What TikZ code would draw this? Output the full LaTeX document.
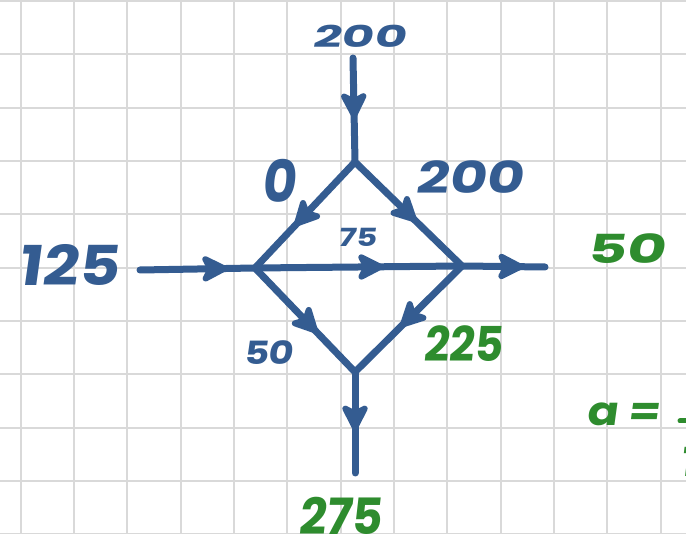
\documentclass[tikz,border=0pt]{standalone}
\usepackage{fontspec}
\setmainfont[FakeSlant=0.12]{Poppins}
\usetikzlibrary{arrows.meta,decorations.markings}
\definecolor{inkblue}{RGB}{52,92,145}
\definecolor{inkgreen}{RGB}{46,140,46}
\definecolor{gridgray}{RGB}{217,217,217}
\tikzset{
  gridline/.style={draw=gridgray, line width=2pt},
  flow/.style={draw=inkblue, line width=7pt, line cap=round, line join=round},
  midarr/.style={postaction={decorate,decoration={markings,
     mark=at position #1 with {\arrow[inkblue]{Stealth[length=32pt,width=32pt,inset=8pt,round]}}}}},
  bluelbl/.style={text=inkblue, inner sep=0pt, font=\bfseries},
  greenlbl/.style={text=inkgreen, inner sep=0pt, font=\bfseries},
}
\newcommand{\hw}[3]{\fontsize{#1}{#1}\selectfont\scalebox{#2}[1]{#3}}
\begin{document}
\begin{tikzpicture}[x=1pt,y=-1pt]
\useasboundingbox (0,0) rectangle (686,534);
\clip (0,0) rectangle (686,534);
\fill[white] (0,0) rectangle (686,534);
\foreach \i in {0,...,12} \draw[gridline] (20.7+53.33*\i,0) -- ++(0,534);
\foreach \j in {0,...,10} \draw[gridline] (0,1+53.33*\j) -- ++(686,0);

% junctions
\coordinate (T) at (355,162);
\coordinate (L) at (255,268);
\coordinate (R) at (462,266);
\coordinate (B) at (355,372);
\coordinate (topin) at (353,58);
\coordinate (leftin) at (140,270);
\coordinate (rightout) at (545,267);
\coordinate (botout) at (355,473);

\draw[flow, midarr=0.58] (topin) -- (T);
\draw[flow, midarr=0.76] (leftin) -- (L);
\draw[flow, midarr=0.62] (L) -- (R);
\draw[flow, midarr=0.74] (R) -- (rightout);
\draw[flow, midarr=0.6] (T) -- (L);
\draw[flow, midarr=0.57] (T) -- (R);
\draw[flow, midarr=0.62] (L) -- (B);
\draw[flow, midarr=0.57] (R) -- (B);
\draw[flow, midarr=0.58] (B) -- (botout);

% labels
\node[bluelbl] (ltop) at (359,36) {\hw{30}{1.65}{200}};
\node[bluelbl] (lzero) at (279,181) {\hw{58}{0.9}{0}};
\node[bluelbl] (ltr) at (469,177) {\hw{44}{1.3}{200}};
\node[bluelbl] (lmid) at (357,237) {\hw{25}{1.3}{75}};
\node[bluelbl] (lleft) at (68,265) {\hw{55}{1.15}{125}};
\node[greenlbl] (lright) at (626,249) {\hw{40}{1.5}{50}};
\node[bluelbl] (llb) at (268,353) {\hw{32}{1.2}{50}};
\node[greenlbl] (lrb) at (463,344) {\hw{48}{0.92}{225}};
\node[greenlbl] (lbot) at (340,516) {\hw{50}{0.95}{275}};
\node[greenlbl] (la) at (623,414) {\hw{40}{1.15}{a =}};
\node[greenlbl] (lnum) at (692,398) {\hw{36}{1}{1}};
\draw[inkgreen, line width=5pt, line cap=round] (680,421) -- (720,421);
\node[greenlbl] (lden) at (688,462) {\hw{40}{1}{1}};
\end{tikzpicture}
\end{document}
